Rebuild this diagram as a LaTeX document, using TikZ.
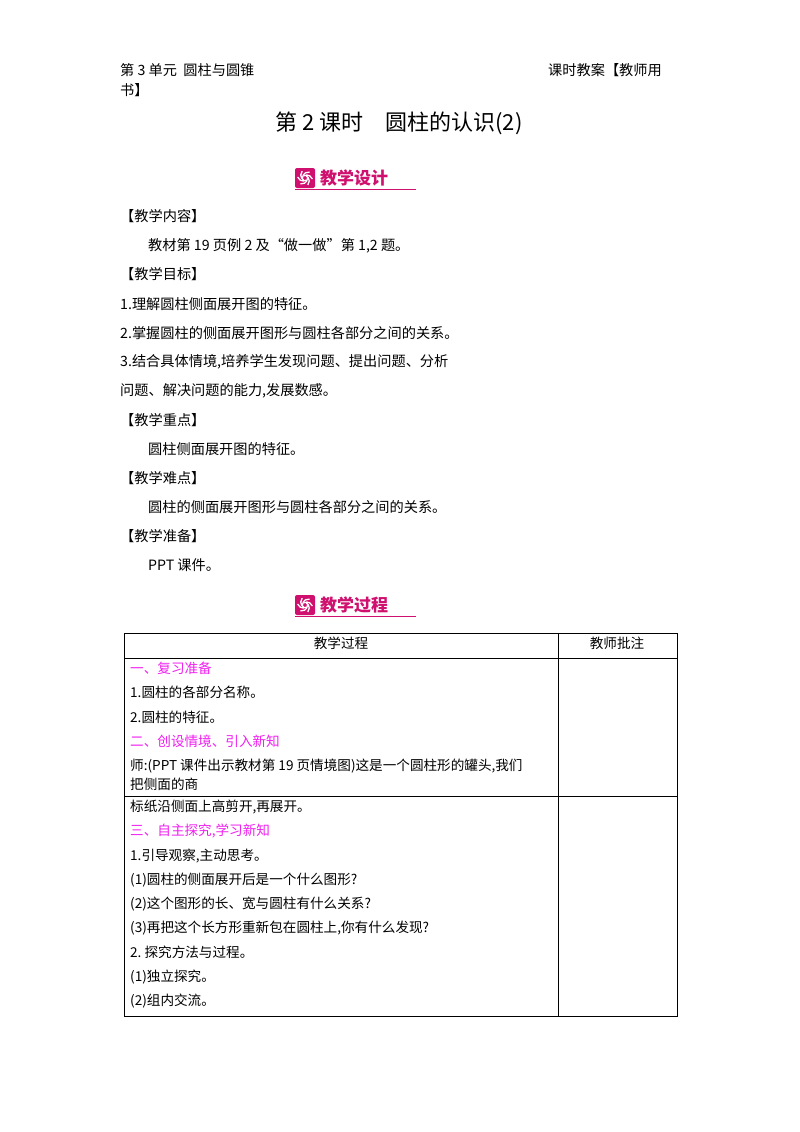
\documentclass[tikz,border=0pt]{standalone}
\usepackage{fontspec}
\setmainfont{Noto Sans CJK SC}
\definecolor{badge}{HTML}{D0106E}
\definecolor{mag}{HTML}{F020F0}
\begin{document}
\begin{tikzpicture}[x=1pt,y=-1pt,
  t/.style={anchor=west,inner sep=0pt,font=\fontsize{14.2}{16}\selectfont},
  tt/.style={anchor=west,inner sep=0pt,font=\fontsize{13.6}{17}\selectfont},
  ph/.style={tt,text=mag}]
\useasboundingbox (0,0) rectangle (800,1132);
\fill[white] (0,0) rectangle (800,1132);
% header
\node[t] (h1) at (120,70) {第 3 单元\ \ 圆柱与圆锥};
\node[t] (h2) at (120,90) {书】};
\node[t] (h3) at (548,70) {课时教案【教师用};
\node[anchor=center,inner sep=0pt,font=\fontsize{22}{26}\selectfont] (title) at (399,123) {第 2 课时\quad 圆柱的认识(2)};
% badges
\foreach \yy/\txt/\nm in {178/教学设计/b1, 605/教学过程/b2}{
  \fill[badge,rounded corners=2pt] (295,\yy-10) rectangle (315,\yy+10);
  \foreach \a in {0,60,...,300}{\draw[white,line width=1.3pt] (305,\yy) ++(\a:2.5) arc[start angle=\a,end angle=\a+100,radius=6];}
  \node[anchor=west,inner sep=0pt,text=badge,font=\fontsize{17}{20}\selectfont\bfseries] (\nm) at (320,\yy) {\txt};
  \draw[badge,line width=0.8pt] (295,\yy+11) -- (416,\yy+11);
}
% body
\node[t] (a1) at (120,216) {【教学内容】};
\node[t] (a2) at (148,246) {教材第 19 页例 2 及“做一做”第 1,2 题。};
\node[t] (a3) at (120,274) {【教学目标】};
\node[t] (a4) at (120,304) {1.理解圆柱侧面展开图的特征。};
\node[t] (a5) at (120,333) {2.掌握圆柱的侧面展开图形与圆柱各部分之间的关系。};
\node[t] (a6) at (120,362) {3.结合具体情境,培养学生发现问题、提出问题、分析};
\node[t] (a7) at (120,391) {问题、解决问题的能力,发展数感。};
\node[t] (a8) at (120,420) {【教学重点】};
\node[t] (a9) at (148,449) {圆柱侧面展开图的特征。};
\node[t] (a10) at (120,478) {【教学难点】};
\node[t] (a11) at (148,507) {圆柱的侧面展开图形与圆柱各部分之间的关系。};
\node[t] (a12) at (120,536) {【教学准备】};
\node[t] (a13) at (148,565) {PPT 课件。};
% table
\draw[line width=1pt] (124,633) rectangle (677,1016);
\draw[line width=0.8pt] (558,633) -- (558,1016);
\draw[line width=0.8pt] (124,658) -- (677,658);
\draw[line width=0.8pt] (124,796) -- (677,796);
\node[tt,anchor=center] (c1) at (341,643) {教学过程};
\node[tt,anchor=center] (c2) at (617,643) {教师批注};
\node[ph] (r1) at (130,668) {一、复习准备};
\node[tt] (r2) at (130,692) {1.圆柱的各部分名称。};
\node[tt] (r3) at (130,717) {2.圆柱的特征。};
\node[ph] (r4) at (130,741) {二、创设情境、引入新知};
\node[tt] (r5) at (130,766) {师:(PPT 课件出示教材第 19 页情境图)这是一个圆柱形的罐头,我们};
\node[tt] (r6) at (130,784) {把侧面的商};
\node[tt] (r7) at (130,807) {标纸沿侧面上高剪开,再展开。};
\node[ph] (r8) at (130,831) {三、自主探究,学习新知};
\node[tt] (r9) at (130,856) {1.引导观察,主动思考。};
\node[tt] (r10) at (130,880) {(1)圆柱的侧面展开后是一个什么图形?};
\node[tt] (r11) at (130,904) {(2)这个图形的长、宽与圆柱有什么关系?};
\node[tt] (r12) at (130,928) {(3)再把这个长方形重新包在圆柱上,你有什么发现?};
\node[tt] (r13) at (130,952) {2.\ 探究方法与过程。};
\node[tt] (r14) at (130,977) {(1)独立探究。};
\node[tt] (r15) at (130,1001) {(2)组内交流。};
\end{tikzpicture}
\end{document}
